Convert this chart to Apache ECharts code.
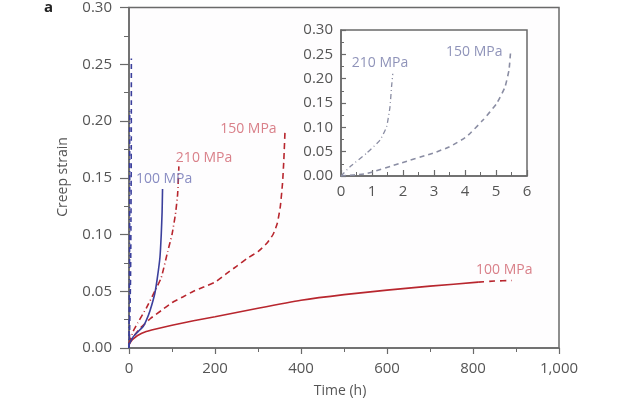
<!DOCTYPE html>
<html>
<head>
<meta charset="utf-8">
<script src="https://cdn.jsdelivr.net/npm/echarts@6/dist/echarts.min.js"></script>
<style>
html, body { margin: 0; padding: 0; background: #fff; }
#chart { width: 620px; height: 399px; }
</style>
</head>
<body>
<div id="chart"></div>
<script>
// time (h), creep strain
var red100 = [[0,0.003],[5,0.006],[10,0.008],[20,0.011],[40,0.0145],[60,0.0165],[100,0.02],[150,0.024],[200,0.0275],[300,0.035],[400,0.042],[500,0.047],[600,0.051],[700,0.0545],[812,0.058]];
var red100Tail = [[812,0.058],[850,0.059],[890,0.0595]];
var red150 = [[0,0.004],[10,0.01],[25,0.017],[50,0.026],[75,0.033],[100,0.04],[125,0.045],[150,0.05],[175,0.054],[200,0.058],[225,0.065],[250,0.072],[275,0.079],[300,0.085],[320,0.092],[335,0.1],[345,0.11],[352,0.125],[357,0.145],[360,0.165],[363,0.193]];
var red210 = [[0,0.004],[10,0.015],[20,0.022],[40,0.035],[60,0.05],[75,0.062],[90,0.085],[100,0.1],[108,0.118],[113,0.135],[116,0.16]];
var blue100 = [[0,0.003],[10,0.01],[20,0.014],[33,0.019],[41,0.025],[49,0.033],[60,0.048],[66,0.062],[72,0.08],[75,0.1],[77,0.12],[78,0.14]];
var blue150 = [[0,0],[0.83,0.005],[1.9,0.026],[2.97,0.047],[3.5,0.06],[4.05,0.081],[4.58,0.115],[5.02,0.149],[5.29,0.183],[5.42,0.218],[5.47,0.255]];
var blue210 = [[0,0],[0.29,0.019],[0.83,0.047],[1.26,0.074],[1.47,0.101],[1.58,0.142],[1.63,0.183],[1.67,0.21]];

// text labels: [text, time, strain]
var mainLabelsRed = [['150 MPa',212,0.193],['210 MPa',109,0.1675],['100 MPa',807,0.069]];
var mainLabelsBlue = [['100 MPa',16,0.149]];
var insetLabels = [['210 MPa',0.35,0.232],['150 MPa',3.39,0.255]];

var RED = '#b8262e', BLUE = '#3b3f9c', GREY = '#8a8da3';
var AX = '#6a6a6a', TXT = '#555555', FONT = 'Open Sans';

var myChart = echarts.init(document.getElementById('chart'));

function xAxisCfg(idx, max, interval, fmt, inside, margin) {
	return {
		type: 'value', gridIndex: idx, min: 0, max: max, interval: interval,
		axisLine: { show: true, onZero: false, lineStyle: { color: AX, width: 1.5 } },
		axisTick: { show: true, inside: inside, length: 6, lineStyle: { color: AX, width: 1.2 } },
		minorTick: { show: true, splitNumber: 2, length: 4, lineStyle: { color: AX } },
		splitLine: { show: false },
		axisLabel: { color: TXT, fontSize: 15, fontFamily: FONT, margin: margin, formatter: fmt }
	};
}
function yAxisCfg(idx, inside, margin) {
	return {
		type: 'value', gridIndex: idx, min: 0, max: 0.3, interval: 0.05,
		axisLine: { show: true, onZero: false, lineStyle: { color: AX, width: 1.5 } },
		axisTick: { show: true, inside: inside, length: inside ? 5 : 9, lineStyle: { color: AX, width: 1.2 } },
		minorTick: { show: true, splitNumber: 2, length: inside ? 3 : 5, lineStyle: { color: AX } },
		splitLine: { show: false },
		axisLabel: { color: TXT, fontSize: 15, fontFamily: FONT, margin: margin, formatter: function (v) { return v.toFixed(2); } }
	};
}
function line(name, data, color, type, x, y, width) {
	return {
		name: name, type: 'line', data: data, xAxisIndex: x, yAxisIndex: y,
		showSymbol: false, smooth: 0.15, z: 3,
		lineStyle: { color: color, width: width || 1.6, type: type }
	};
}
function labels(arr, color, x, y) {
	return {
		type: 'scatter', xAxisIndex: x, yAxisIndex: y, symbolSize: 0, z: 5,
		data: arr.map(function (a) { return { value: [a[1], a[2]], name: a[0] }; }),
		label: { show: true, position: 'right', distance: 0, formatter: '{b}', color: color, fontSize: 14, fontFamily: FONT }
	};
}

var option = {
	animation: false,
	backgroundColor: '#fff',
	grid: [
		{ left: 129, top: 7, width: 430, height: 341, show: true, borderColor: AX, borderWidth: 1.5, backgroundColor: '#fefdfe' },
		{ left: 341, top: 30, width: 186, height: 146, show: true, borderColor: AX, borderWidth: 1.5, backgroundColor: '#fff' }
	],
	xAxis: [
		xAxisCfg(0, 1000, 200, function (v) { return String(v).replace(/\B(?=(\d{3})+(?!\d))/g, ','); }, false, 13),
		xAxisCfg(1, 6, 1, null, true, 8)
	],
	yAxis: [ yAxisCfg(0, false, 17), yAxisCfg(1, true, 8) ],
	graphic: [
		{ type: 'text', left: 44, top: 0, style: { text: 'a', font: 'bold 15px "Open Sans"', fill: '#222' } },
		{ type: 'text', x: 63, y: 177, rotation: Math.PI / 2, style: { text: 'Creep strain', font: '14px "Open Sans"', fill: TXT, align: 'center', verticalAlign: 'middle' } },
		{ type: 'text', x: 340, y: 391, style: { text: 'Time (h)', font: '14px "Open Sans"', fill: TXT, align: 'center', verticalAlign: 'middle' } }
	],
	series: [
		line('100 MPa', red100, RED, 'solid', 0, 0),
		line('100 MPa tail', red100Tail, RED, [6, 5], 0, 0),
		line('150 MPa', red150, RED, [6, 4], 0, 0),
		line('210 MPa', red210, RED, [6, 3, 1, 3], 0, 0),
		line('100 MPa blue', blue100, BLUE, 'solid', 0, 0),
		line('150 MPa blue', blue150, BLUE, [5, 4], 0, 0),
		line('210 MPa blue', blue210, BLUE, [5, 3, 1, 3], 0, 0),
		line('150 MPa inset', blue150, GREY, [5, 4], 1, 1, 1.6),
		line('210 MPa inset', blue210, GREY, [5, 3, 1, 3], 1, 1, 1.3),
		labels(mainLabelsRed, '#d0606c', 0, 0),
		labels(mainLabelsBlue, '#6a6fb3', 0, 0),
		labels(insetLabels, '#7378a8', 1, 1)
	]
};
myChart.setOption(option);
</script>
</body>
</html>
